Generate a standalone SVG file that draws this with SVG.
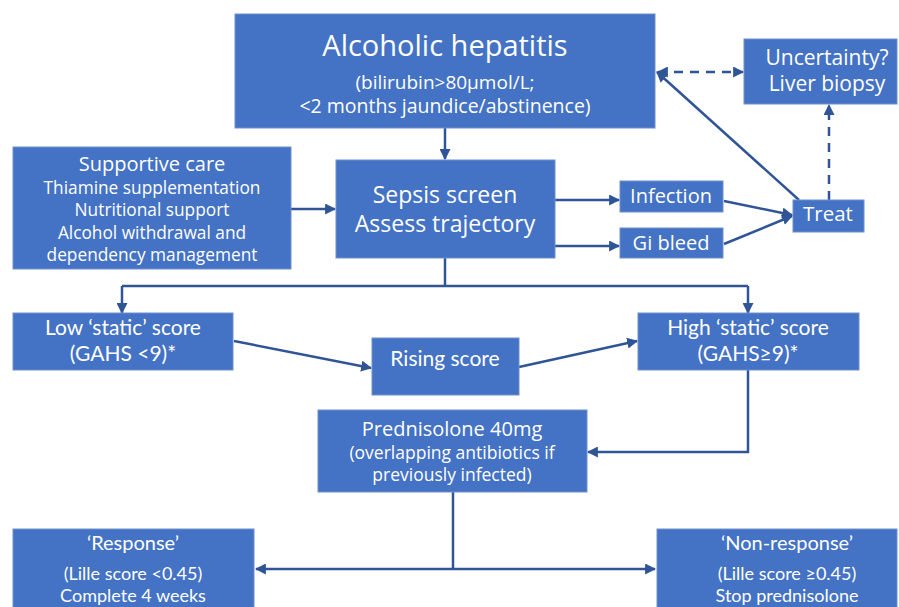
<svg xmlns="http://www.w3.org/2000/svg" width="899" height="607" viewBox="0 0 899 607">
<defs>
<style>
.box{fill:#4472C4;stroke:#6F8FCF;stroke-width:1}
.t{fill:#ffffff;font-family:"Open Sans","Noto Sans",sans-serif;text-anchor:middle}
.c{fill:#ffffff;font-family:Lato,"Liberation Sans",sans-serif;text-anchor:middle}
.ln{fill:none;stroke:#2F5597;stroke-width:2.5}
.dash{stroke-dasharray:9,7}
</style>
<marker id="ah" viewBox="0 0 10 10" refX="9" refY="5" markerWidth="11" markerHeight="11" markerUnits="userSpaceOnUse" orient="auto-start-reverse">
<path d="M0,0 L10,5 L0,10 z" fill="#2F5597"/>
</marker>
</defs>
<rect width="899" height="607" fill="#ffffff"/>

<g id="connectors">
<line class="ln" x1="445" y1="128" x2="445" y2="159" marker-end="url(#ah)"/>
<line class="ln" x1="291" y1="209" x2="335" y2="209" marker-end="url(#ah)"/>
<line class="ln" x1="555" y1="200" x2="619" y2="200" marker-end="url(#ah)"/>
<line class="ln" x1="555" y1="246" x2="619" y2="246" marker-end="url(#ah)"/>
<line class="ln" x1="724" y1="201" x2="792" y2="215" marker-end="url(#ah)"/>
<line class="ln" x1="724" y1="244" x2="792" y2="216" marker-end="url(#ah)"/>
<line class="ln" x1="799" y1="200" x2="657" y2="72" marker-end="url(#ah)"/>
<line class="ln dash" x1="658" y1="72" x2="743" y2="72" marker-start="url(#ah)" marker-end="url(#ah)"/>
<line class="ln dash" x1="829" y1="200" x2="829" y2="105" marker-end="url(#ah)"/>
<polyline class="ln" points="445,258 445,286"/>
<polyline class="ln" points="122,286 748,286"/>
<line class="ln" x1="122" y1="286" x2="122" y2="313" marker-end="url(#ah)"/>
<line class="ln" x1="748" y1="286" x2="748" y2="313" marker-end="url(#ah)"/>
<line class="ln" x1="234" y1="341" x2="371" y2="368" marker-end="url(#ah)"/>
<line class="ln" x1="519" y1="367" x2="637" y2="341" marker-end="url(#ah)"/>
<polyline class="ln" points="748,370 748,452 588,452" marker-end="url(#ah)"/>
<line class="ln" x1="453" y1="492" x2="453" y2="569"/>
<line class="ln" x1="256" y1="569" x2="655" y2="569" marker-start="url(#ah)" marker-end="url(#ah)"/>
</g>

<g id="alcoholic-hepatitis">
<rect class="box" x="235" y="14" width="420" height="114"/>
<text class="t" x="445" y="56" font-size="29">Alcoholic hepatitis</text>
<text class="t" x="445" y="89" font-size="19">(bilirubin&gt;80μmol/L;</text>
<text class="t" x="445" y="113" font-size="19.5">&lt;2 months jaundice/abstinence)</text>
</g>

<g id="uncertainty">
<rect class="box" x="744" y="39" width="153" height="65"/>
<text class="t" x="827" y="65" font-size="21">Uncertainty?</text>
<text class="t" x="827" y="91" font-size="21">Liver biopsy</text>
</g>

<g id="supportive-care">
<rect class="box" x="13" y="147" width="278" height="122"/>
<text class="t" x="152" y="171" font-size="20">Supportive care</text>
<text class="t" x="152" y="194" font-size="17.3">Thiamine supplementation</text>
<text class="t" x="152" y="216" font-size="17.3">Nutritional support</text>
<text class="t" x="152" y="239" font-size="17.3">Alcohol withdrawal and</text>
<text class="t" x="152" y="261" font-size="17.3">dependency management</text>
</g>

<g id="sepsis-screen">
<rect class="box" x="336" y="160" width="219" height="98"/>
<text class="t" x="445" y="203" font-size="23">Sepsis screen</text>
<text class="t" x="445" y="232" font-size="23">Assess trajectory</text>
</g>

<g id="infection">
<rect class="box" x="620" y="181" width="103" height="31"/>
<text class="t" x="671" y="203" font-size="20">Infection</text>
</g>

<g id="gi-bleed">
<rect class="box" x="620" y="228" width="103" height="30"/>
<text class="t" x="671" y="250" font-size="20">Gi bleed</text>
</g>

<g id="treat">
<rect class="box" x="793" y="200" width="71" height="32"/>
<text class="t" x="828" y="221" font-size="20.5">Treat</text>
</g>

<g id="low-static">
<rect class="box" x="13" y="313" width="220" height="57"/>
<text class="c" x="123" y="335" font-size="21">Low ‘static’ score</text>
<text class="c" x="123" y="361" font-size="21">(GAHS &lt;9)*</text>
</g>

<g id="rising-score">
<rect class="box" x="372" y="338" width="147" height="57"/>
<text class="c" x="445" y="366" font-size="21">Rising score</text>
</g>

<g id="high-static">
<rect class="box" x="638" y="313" width="221" height="57"/>
<text class="c" x="748" y="335" font-size="21">High ‘static’ score</text>
<text class="c" x="748" y="361" font-size="21">(GAHS≥9)*</text>
</g>

<g id="prednisolone">
<rect class="box" x="318" y="410" width="269" height="82"/>
<text class="t" x="452" y="436" font-size="20">Prednisolone 40mg</text>
<text class="t" x="452" y="459" font-size="17.5">(overlapping antibiotics if</text>
<text class="t" x="452" y="481" font-size="17.5">previously infected)</text>
</g>

<g id="response">
<rect class="box" x="13" y="529" width="241" height="90"/>
<text class="c" x="133" y="550" font-size="20">‘Response’</text>
<text class="c" x="133" y="580" font-size="18">(Lille score &lt;0.45)</text>
<text class="c" x="133" y="602" font-size="18">Complete 4 weeks</text>
</g>

<g id="non-response">
<rect class="box" x="657" y="529" width="240" height="90"/>
<text class="c" x="787" y="550" font-size="20">‘Non-response’</text>
<text class="c" x="787" y="580" font-size="18">(Lille score ≥0.45)</text>
<text class="c" x="787" y="602" font-size="18">Stop prednisolone</text>
</g>
</svg>
